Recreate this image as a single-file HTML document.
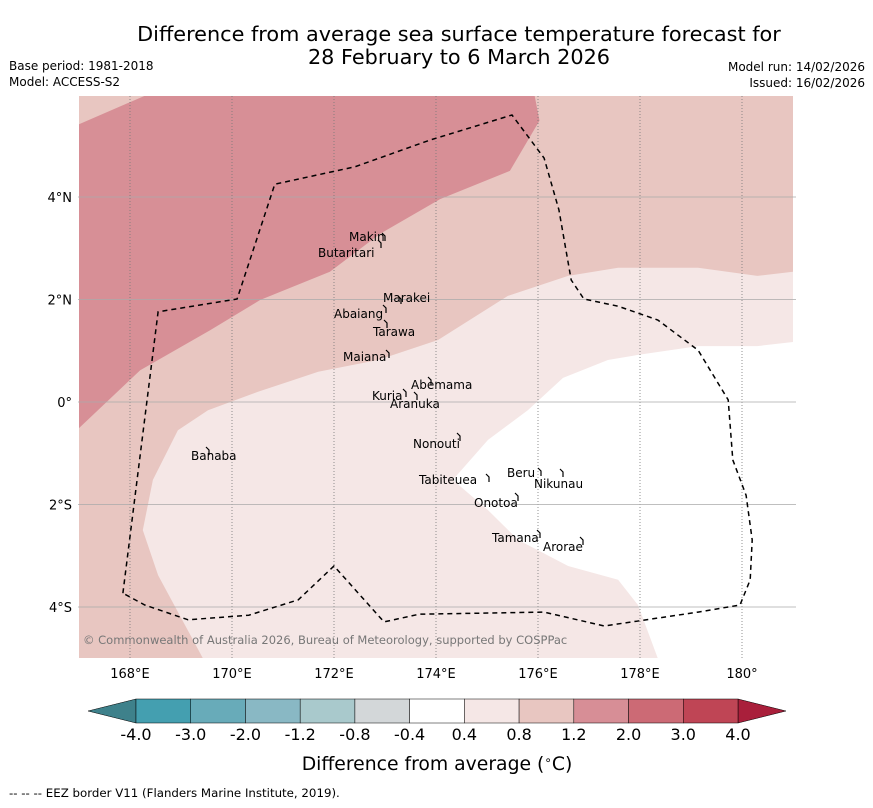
<!DOCTYPE html>
<html><head><meta charset="utf-8"><style>
body{margin:0;background:#fff;width:873px;height:804px;overflow:hidden;font-family:"DejaVu Sans","Liberation Sans",sans-serif;}
svg text{font-family:"DejaVu Sans","Liberation Sans",sans-serif;}
</style></head><body>
<svg id="s" width="873" height="804" xmlns="http://www.w3.org/2000/svg">
<text x="459" y="41" font-size="20.8" text-anchor="middle">Difference from average sea surface temperature forecast for</text>
<text x="459" y="64" font-size="20.8" text-anchor="middle">28 February to 6 March 2026</text>
<text x="9" y="70" font-size="12">Base period: 1981-2018</text>
<text x="9" y="86" font-size="12">Model: ACCESS-S2</text>
<text x="865" y="71" font-size="12" text-anchor="end">Model run: 14/02/2026</text>
<text x="865" y="87" font-size="12" text-anchor="end">Issued: 16/02/2026</text>
<defs><clipPath id="mc"><rect x="78" y="96" width="718" height="562"/></clipPath></defs>
<g id="map" clip-path="url(#mc)"></g>
<g id="grid"></g>
<g id="eez"></g>
<g id="isl"></g>
<text x="83" y="644" font-size="11.5" fill="#777">© Commonwealth of Australia 2026, Bureau of Meteorology, supported by COSPPac</text>
<g id="cbar"></g>
<text x="437" y="770" font-size="18.8" text-anchor="middle">Difference from average (<tspan font-size="12" dy="-6">∘</tspan><tspan dy="6">C)</tspan></text>
<text x="9" y="797" font-size="11.8">-- -- -- EEZ border V11 (Flanders Marine Institute, 2019).</text>
</svg>
<script>
const lonTicks=[168,170,172,174,176,178,180];
const latTicks=[-4,-2,0,2,4];
const cbLevels=["-4.0","-3.0","-2.0","-1.2","-0.8","-0.4","0.4","0.8","1.2","2.0","3.0","4.0"];
const cbColors=["#449fb0","#68abb9","#89b8c4","#a9c9cc","#d3d7d9","#ffffff","#f5e7e6","#e8c6c1","#d78e96","#cc6a75","#bf4555"];
const zoneMedium=[[167,6],[181,6],[181,-5],[167,-5]];
const zoneDark=[[167,5.42],[168.35,6],[175.93,6],[176.03,5.49],[175.45,4.51],[174.08,3.96],[172.9,3.28],[171.92,2.54],[170.55,1.99],[169.57,1.4],[168.2,0.62],[167,-0.51]];
const zoneLight=[[181,2.54],[180.3,2.46],[179.14,2.62],[177.57,2.62],[176.59,2.46],[175.41,2.07],[174.04,1.21],[172.86,0.82],[171.69,0.59],[170.51,0.2],[169.53,-0.16],[168.94,-0.55],[168.45,-1.52],[168.25,-2.5],[168.55,-3.38],[169.43,-5],[181,-5]];
const zoneWhite=[[181,1.17],[180.3,1.09],[179.14,1.09],[177.96,0.92],[177.37,0.82],[176.49,0.47],[175.8,-0.16],[175.02,-0.74],[174.33,-1.52],[175.02,-2.11],[175.61,-2.69],[176.59,-3.2],[177.57,-3.47],[177.96,-3.96],[178.35,-5],[181,-5]];
const eezPts=[[167.86,-3.73],[168.55,1.76],[170.1,2.01],[170.84,4.25],[172.41,4.59],[173.88,5.11],[175.49,5.6],[176.12,4.76],[176.41,3.75],[176.65,2.38],[176.9,2.01],[177.57,1.87],[178.35,1.6],[179.14,1.01],[179.73,0.04],[179.82,-1.13],[180.08,-1.82],[180.2,-2.69],[180.16,-3.47],[179.96,-3.96],[179.14,-4.1],[177.3,-4.37],[176.12,-4.1],[173.67,-4.14],[172.98,-4.29],[172,-3.2],[171.3,-3.86],[170.33,-4.16],[169.14,-4.25],[168.29,-3.96],[167.86,-3.73]];
// [name, mark x, mark y, label x, label baseline y]
const islands=[["Makin",384,233,349,241],["Butaritari",380,240,318,257],["Marakei",400,296,383,302],["Abaiang",385,305,334,318],["Tarawa",386,320,373,336],["Maiana",388,350,343,361],["Abemama",430,377,411,389],["Kuria",405,389,372,400],["Aranuka",416,392,390,408],["Nonouti",459,433,413,448],["Banaba",208,447,191,460],["Beru",540,468,507,477],["Nikunau",562,469,534,488],["Tabiteuea",488,474,419,484],["Onotoa",517,493,474,507],["Tamana",539,530,492,542],["Arorae",582,537,543,551]];
const X=lon=>130+(lon-168)*51, Y=lat=>402-lat*51.25;
const NS="http://www.w3.org/2000/svg";
function mk(t,a,p){const e=document.createElementNS(NS,t);for(const k in a)e.setAttribute(k,a[k]);p.appendChild(e);return e;}
const pts=arr=>arr.map(p=>X(p[0]).toFixed(1)+","+Y(p[1]).toFixed(1)).join(" ");
const map=document.getElementById('map');
[[zoneMedium,"#e8c6c1","zone-0.8-1.2"],[zoneDark,"#d78f96","zone-1.2-2.0"],[zoneLight,"#f5e7e6","zone-0.4-0.8"],[zoneWhite,"#ffffff","zone-neutral"]].forEach(z=>{
 const e=mk('polygon',{points:pts(z[0]),fill:z[1]},map);
 
 
});
const grid=document.getElementById('grid');
lonTicks.forEach(l=>{
 const e=mk('line',{x1:X(l),x2:X(l),y1:96,y2:658,stroke:"#777","stroke-width":0.8,"stroke-dasharray":"1,2"},grid);
 
 
 const t=mk('text',{x:X(l),y:678,"font-size":13,"text-anchor":"middle"},grid);
 t.textContent=l===180?"180°":l+"°E";
 
 
});
latTicks.forEach(l=>{
 const e=mk('line',{x1:78,x2:796,y1:Y(l),y2:Y(l),stroke:"#aaa","stroke-width":0.8},grid);
 
 
 const t=mk('text',{x:72,y:Y(l)+5,"font-size":13,"text-anchor":"end"},grid);
 t.textContent=l===0?"0°":Math.abs(l)+"°"+(l>0?"N":"S");
 
 
});
const eez=mk('polyline',{points:pts(eezPts),fill:"none",stroke:"#000","stroke-width":1.5,"stroke-dasharray":"5,4"},document.getElementById('eez'));


const isl=document.getElementById('isl');
islands.forEach(i=>{
 const m=mk('path',{d:`M${i[1]-2},${i[2]} l3,3 l0,5`,stroke:"#000",fill:"none","stroke-width":1.2},isl);
 
 
 const t=mk('text',{x:i[3],y:i[4],"font-size":12},isl);
 t.textContent=i[0];
 
 
});
const cb=document.getElementById('cbar');
const x0=136,x1=738,w=(x1-x0)/cbColors.length;
const lt=mk('polygon',{points:`88,711 ${x0},699 ${x0},723`,fill:"#3e818b",stroke:"#000","stroke-width":0.5},cb);


const rt=mk('polygon',{points:`786,711 ${x1},699 ${x1},723`,fill:"#a91f3b",stroke:"#000","stroke-width":0.5},cb);


cbColors.forEach((c,i)=>{
 const r=mk('rect',{x:x0+i*w,y:699,width:w,height:24,fill:c,stroke:"#000","stroke-width":0.5},cb);
 
 
});
cbLevels.forEach((l,i)=>{
 const t=mk('text',{x:x0+i*w,y:740,"font-size":16,"text-anchor":"middle"},cb);
 t.textContent=l;
 
 
});
</script>
</body></html>
